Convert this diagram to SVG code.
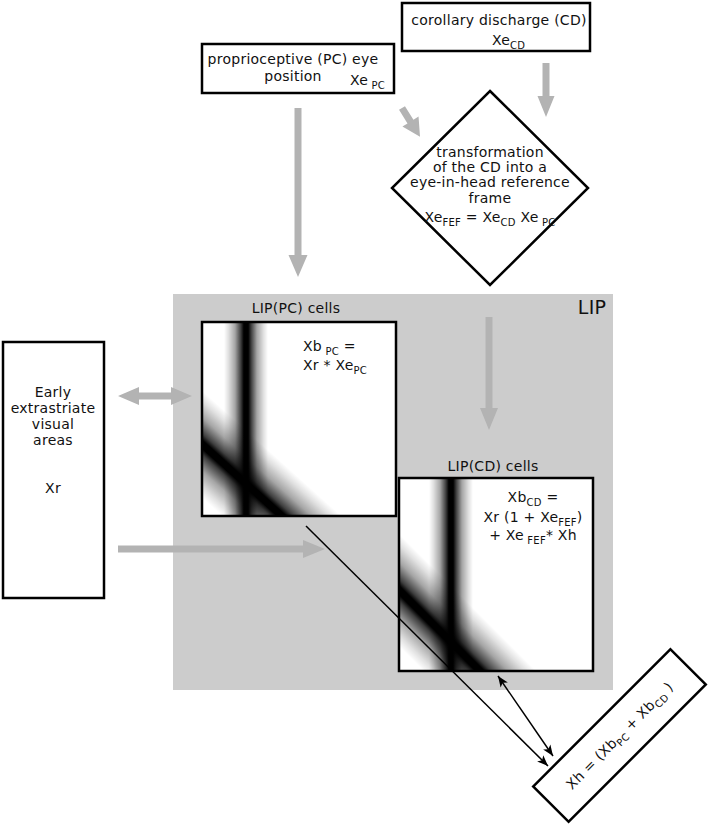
<svg xmlns="http://www.w3.org/2000/svg" width="708" height="826" viewBox="0 0 708 826">
<style>
text{font-family:"DejaVu Sans","Liberation Sans",sans-serif;font-size:14px;fill:#111;letter-spacing:0.25px}
.m{text-anchor:middle}
.sub{font-size:10px}
.box{fill:#fff;stroke:#000;stroke-width:2.5}
.ga{fill:#b3b3b3}
.bl{stroke:#000;stroke-width:1.5;fill:none;marker-end:url(#ah)}
</style>
<defs>
<marker id="ah" viewBox="0 0 10 10" refX="10" refY="5" markerWidth="11" markerHeight="11" markerUnits="userSpaceOnUse" orient="auto-start-reverse">
<path d="M0,1 L10,5 L0,9 L2.5,5 z" fill="#000"/>
</marker>
<linearGradient id="bandH" x1="0" y1="0" x2="1" y2="0">
<stop offset="0" stop-color="#000" stop-opacity="0"/>
<stop offset="0.1" stop-color="#000" stop-opacity="0.12"/>
<stop offset="0.25" stop-color="#000" stop-opacity="0.35"/>
<stop offset="0.38" stop-color="#000" stop-opacity="0.75"/>
<stop offset="0.45" stop-color="#000" stop-opacity="1"/>
<stop offset="0.55" stop-color="#000" stop-opacity="1"/>
<stop offset="0.62" stop-color="#000" stop-opacity="0.75"/>
<stop offset="0.75" stop-color="#000" stop-opacity="0.35"/>
<stop offset="0.9" stop-color="#000" stop-opacity="0.12"/>
<stop offset="1" stop-color="#000" stop-opacity="0"/>
</linearGradient>
<linearGradient id="bandV" x1="0" y1="0" x2="0" y2="1">
<stop offset="0" stop-color="#000" stop-opacity="0"/>
<stop offset="0.1" stop-color="#000" stop-opacity="0.12"/>
<stop offset="0.25" stop-color="#000" stop-opacity="0.35"/>
<stop offset="0.4" stop-color="#000" stop-opacity="0.75"/>
<stop offset="0.46" stop-color="#000" stop-opacity="1"/>
<stop offset="0.54" stop-color="#000" stop-opacity="1"/>
<stop offset="0.6" stop-color="#000" stop-opacity="0.75"/>
<stop offset="0.75" stop-color="#000" stop-opacity="0.35"/>
<stop offset="0.9" stop-color="#000" stop-opacity="0.12"/>
<stop offset="1" stop-color="#000" stop-opacity="0"/>
</linearGradient>
<clipPath id="cpPC"><rect x="202" y="322" width="194" height="194"/></clipPath>
<clipPath id="cpCD"><rect x="399" y="478" width="194" height="193"/></clipPath>
</defs>

<g id="lip">
<rect x="173" y="294" width="440" height="396" fill="#cccccc"/>
<text x="592" y="314" class="m" style="font-size:19px">LIP</text>
</g>

<g id="cd-box">
<rect class="box" x="402" y="3" width="188" height="48"/>
<text x="499" y="25" class="m">corollary discharge (CD)</text>
<text x="492" y="45">Xe<tspan class="sub" dy="4">CD</tspan></text>
</g>

<g id="pc-box">
<rect class="box" x="202" y="44" width="192" height="49"/>
<text x="293" y="64" class="m">proprioceptive (PC) eye</text>
<text x="293" y="81" class="m">position</text>
<text x="350" y="85">Xe<tspan class="sub" dy="4"> PC</tspan></text>
</g>

<g id="transform">
<polygon class="box" points="490,91 588,188 490,285 392,188"/>
<text x="490" y="157" class="m">transformation</text>
<text x="490" y="172" class="m">of the CD into a</text>
<text x="490" y="187" class="m">eye-in-head reference</text>
<text x="490" y="203" class="m">frame</text>
<text x="490" y="222" class="m">Xe<tspan class="sub" dy="4">FEF</tspan><tspan dy="-4"> = Xe</tspan><tspan class="sub" dy="4">CD</tspan><tspan dy="-4"> Xe</tspan><tspan class="sub" dy="4"> PC</tspan></text>
</g>

<g id="early">
<rect class="box" x="3" y="342" width="101" height="256"/>
<text x="53" y="397" class="m">Early</text>
<text x="53" y="413" class="m">extrastriate</text>
<text x="53" y="429" class="m">visual</text>
<text x="53" y="445" class="m">areas</text>
<text x="53" y="493" class="m">Xr</text>
</g>

<g id="lip-pc">
<text x="296" y="313" class="m">LIP(PC) cells</text>
<rect x="202" y="322" width="194" height="194" fill="#fff"/>
<g clip-path="url(#cpPC)">
<rect x="224" y="322" width="44" height="194" fill="url(#bandH)"/>
<g transform="translate(203,445) rotate(42)"><rect x="-80" y="-40" width="320" height="80" fill="url(#bandV)"/></g>
</g>
<rect x="202" y="322" width="194" height="194" fill="none" stroke="#000" stroke-width="2.5"/>
<text x="303" y="351">Xb<tspan class="sub" dy="4"> PC</tspan><tspan dy="-4"> =</tspan></text>
<text x="303" y="370">Xr * Xe<tspan class="sub" dy="4">PC</tspan></text>
</g>

<g id="lip-cd">
<text x="493" y="471" class="m">LIP(CD) cells</text>
<rect x="399" y="478" width="194" height="193" fill="#fff"/>
<g clip-path="url(#cpCD)">
<rect x="429" y="478" width="44" height="193" fill="url(#bandH)"/>
<g transform="translate(401,592) rotate(45)"><rect x="-80" y="-40" width="320" height="80" fill="url(#bandV)"/></g>
</g>
<rect x="399" y="478" width="194" height="193" fill="none" stroke="#000" stroke-width="2.5"/>
<text x="533" y="502" class="m">Xb<tspan class="sub" dy="4">CD</tspan><tspan dy="-4"> =</tspan></text>
<text x="533" y="522" class="m">Xr (1 + Xe<tspan class="sub" dy="4">FEF</tspan><tspan dy="-4">)</tspan></text>
<text x="533" y="540" class="m">+ Xe<tspan class="sub" dy="4"> FEF</tspan><tspan dy="-4">* Xh</tspan></text>
</g>

<g id="xh">
<g transform="translate(619.5,735.5) rotate(-45)">
<rect class="box" x="-97" y="-25" width="194" height="50"/>
<text x="0" y="5" class="m">Xh = (Xb<tspan class="sub" dy="4">PC</tspan><tspan dy="-4"> + Xb</tspan><tspan class="sub" dy="4">CD</tspan><tspan dy="-4"> )</tspan></text>
</g>
</g>

<g id="connectors">
<path class="ga" d="M542.5,63 h7 v33 h5 l-8.5,21 l-8.5,-21 h5 z"/>
<path class="ga" d="M294.5,108 h7 v147 h6 l-9.5,22 l-9.5,-22 h6 z"/>
<g transform="translate(402,108) rotate(58)"><path class="ga" d="M0,-3.5 h16 v-6 l18,9.5 l-18,9.5 v-6 h-16 z"/></g>
<path class="ga" d="M485.5,317 h7 v91 h5.5 l-9,22 l-9,-22 h5.5 z"/>
<path class="ga" d="M118,396 l21,-9 v5.5 h32 v-5.5 l21,9 l-21,9 v-5.5 h-32 v5.5 z"/>
<path class="ga" d="M118,545.5 h185 v-5.5 l22,9 l-22,9 v-5.5 h-185 z"/>
<line class="bl" x1="306" y1="526" x2="548" y2="766"/>
<line class="bl" x1="498" y1="676" x2="553" y2="756" style="marker-start:url(#ah)"/>
</g>
</svg>
